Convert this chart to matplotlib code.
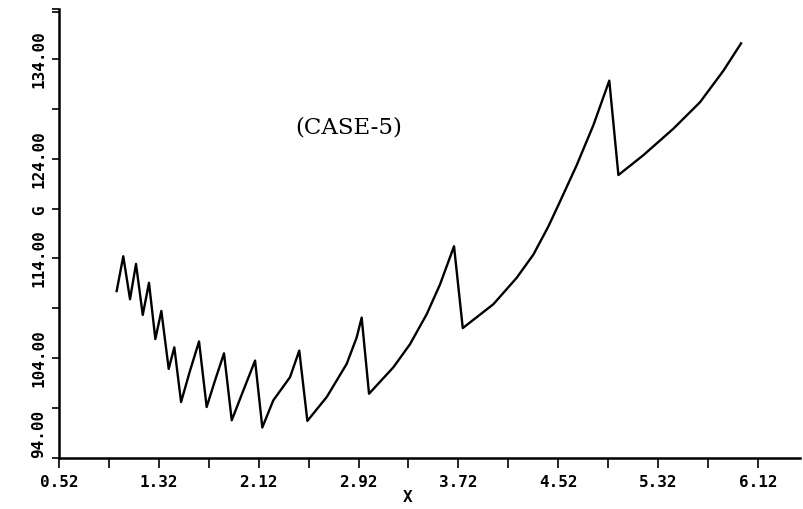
import numpy as np
import matplotlib
matplotlib.use("Agg")
import matplotlib.pyplot as plt

### data ###
x = [0.982, 1.035, 1.089, 1.137, 1.191, 1.241, 1.292, 1.340, 1.399, 1.444,
     1.498, 1.570, 1.642, 1.703, 1.770, 1.842, 1.904, 1.997, 2.091, 2.149,
     2.237, 2.371, 2.445, 2.510, 2.665, 2.825, 2.905, 2.945, 3.004, 3.199,
     3.333, 3.466, 3.573, 3.685, 3.755, 4.000, 4.187, 4.321, 4.441, 4.534,
     4.668, 4.801, 4.929, 5.002, 5.202, 5.442, 5.656, 5.843, 5.985]
G = [110.73, 114.22, 109.91, 113.45, 108.34, 111.56, 105.92, 108.74, 102.93, 105.09,
     99.61, 102.76, 105.68, 99.11, 101.77, 104.49, 97.78, 100.77, 103.76, 97.06,
     99.78, 102.10, 104.76, 97.72, 100.11, 103.43, 106.08, 108.07, 100.44, 103.09,
     105.42, 108.41, 111.40, 115.22, 107.02, 109.41, 112.06, 114.39, 117.21, 119.70,
     123.35, 127.34, 131.82, 122.36, 124.35, 127.00, 129.66, 132.81, 135.56]
xticks = [0.52, 1.32, 2.12, 2.92, 3.72, 4.52, 5.32, 6.12]
yticks = [94, 104, 114, 124, 134]
case_label = "(CASE-5)"

fig = plt.figure(figsize=(8.04, 5.09), dpi=100)
ax = fig.add_axes([59/804, 51/509, 741/804, 449/509])

ax.plot(x, G, color='black', lw=1.7)

ymax = 138.72
ax.set_xlim(0.52, 6.457)
ax.set_ylim(94, ymax)
for s in ['top', 'right']:
    ax.spines[s].set_visible(False)
for s in ['left', 'bottom']:
    ax.spines[s].set_linewidth(1.8)

tickfont = dict(family='DejaVu Sans Mono', weight='bold', size=11.5)
ax.set_xticks(xticks)
ax.set_xticklabels(["%.2f" % v for v in xticks], **tickfont)
ax.set_xticks(np.array(xticks[:-1]) + 0.4, minor=True)
ax.set_yticks(yticks)
ylabs = ax.set_yticklabels(["%.2f" % v for v in yticks], rotation=90, va='center', **tickfont)
ylabs[0].set_va('bottom')
ax.set_yticks(list(np.array(yticks) + 5) + [ymax], minor=True)

ax.tick_params(axis='x', which='both', direction='out', length=7, width=1.2, pad=5)
ax.tick_params(axis='y', which='both', direction='out', length=5, width=1.2, pad=4)

# axis titles
fig.text(408/804, 1 - 498/509, "X", ha='center', va='center', **tickfont)
fig.text(40/804, 1 - 210/509, "G", ha='center', va='center', rotation=90, **tickfont)

ax.text(2.84, 127.17, case_label, ha='center', va='center',
        family='DejaVu Serif', fontsize=16.5)

plt.savefig('out.png', dpi=100)
